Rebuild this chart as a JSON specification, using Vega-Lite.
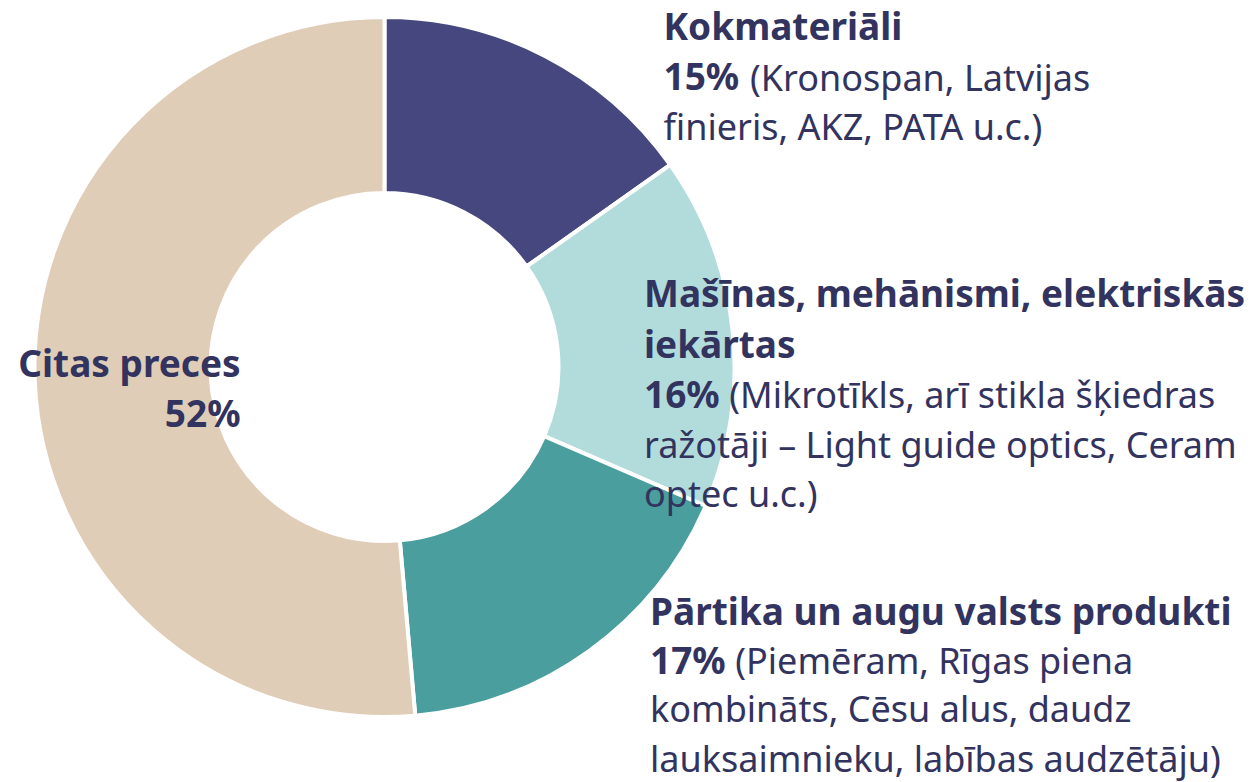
{
  "$schema": "https://vega.github.io/schema/vega-lite/v6.json",
  "width": 769,
  "height": 734,
  "autosize": {"type": "none"},
  "padding": {"left": 0, "top": 0, "right": 489, "bottom": 48},
  "background": "white",
  "config": {"view": {"stroke": null}},
  "data": {
    "values": [
      {"category": "Kokmateriāli", "value": 15.2, "bold": ["Kokmateriāli", "15%"], "note1": "(Kronospan, Latvijas", "note2": ["finieris, AKZ, PATA u.c.)"]},
      {"category": "Mašīnas, mehānismi, elektriskās iekārtas", "value": 16.3, "bold": ["Mašīnas, mehānismi, elektriskās", "iekārtas", "16%"], "note1": "(Mikrotīkls, arī stikla šķiedras", "note2": ["ražotāji – Light guide optics, Ceram", "optec u.c.)"]},
      {"category": "Pārtika un augu valsts produkti", "value": 17.1, "bold": ["Pārtika un augu valsts produkti", "17%"], "note1": "(Piemēram, Rīgas piena", "note2": ["kombināts, Cēsu alus, daudz", "lauksaimnieku, labības audzētāju)"]},
      {"category": "Citas preces", "value": 51.4, "bold": ["Citas preces", "52%"], "note1": "", "note2": []}
    ]
  },
  "transform": [{"stack": "value", "groupby": [], "as": ["v0", "v1"]}],
  "encoding": {
    "theta": {"field": "v0", "type": "quantitative", "stack": null, "scale": {"domain": [0, 100]}}
  },
  "layer": [
    {
      "mark": {"type": "arc", "outerRadius": 350, "innerRadius": 174, "stroke": "white", "strokeWidth": 4},
      "encoding": {
        "theta2": {"field": "v1"},
        "color": {
          "field": "category", "type": "nominal", "legend": null,
          "scale": {
            "domain": ["Kokmateriāli", "Mašīnas, mehānismi, elektriskās iekārtas", "Pārtika un augu valsts produkti", "Citas preces"],
            "range": ["#46477e", "#b2dcdb", "#4a9e9e", "#e0cdb7"]
          }
        }
      }
    },
    {
      "transform": [{"filter": "datum.category == 'Kokmateriāli'"}],
      "mark": {"type": "text", "font": "Noto Sans", "fontSize": 37, "fontWeight": "bold", "color": "#32335e", "align": "left", "baseline": "alphabetic", "lineHeight": 50.8, "dx": 279, "dy": 22.5},
      "encoding": {"radius": {"value": 350}, "text": {"field": "bold", "type": "nominal"}}
    },
    {
      "transform": [{"filter": "datum.category == 'Kokmateriāli'"}],
      "mark": {"type": "text", "font": "Noto Sans", "fontSize": 36, "color": "#32335e", "align": "left", "baseline": "alphabetic", "dx": 365.5, "dy": 73.5},
      "encoding": {"radius": {"value": 350}, "text": {"field": "note1", "type": "nominal"}}
    },
    {
      "transform": [{"filter": "datum.category == 'Kokmateriāli'"}],
      "mark": {"type": "text", "font": "Noto Sans", "fontSize": 36, "color": "#32335e", "align": "left", "baseline": "alphabetic", "lineHeight": 50, "dx": 279, "dy": 123},
      "encoding": {"radius": {"value": 350}, "text": {"field": "note2", "type": "nominal"}}
    },
    {
      "transform": [{"filter": "datum.category == 'Mašīnas, mehānismi, elektriskās iekārtas'"}],
      "mark": {"type": "text", "font": "Noto Sans", "fontSize": 37, "fontWeight": "bold", "color": "#32335e", "align": "left", "baseline": "alphabetic", "lineHeight": 50.7, "dx": -26.2, "dy": 142},
      "encoding": {"radius": {"value": 350}, "text": {"field": "bold", "type": "nominal"}}
    },
    {
      "transform": [{"filter": "datum.category == 'Mašīnas, mehānismi, elektriskās iekārtas'"}],
      "mark": {"type": "text", "font": "Noto Sans", "fontSize": 36, "color": "#32335e", "align": "left", "baseline": "alphabetic", "dx": 59, "dy": 243.4},
      "encoding": {"radius": {"value": 350}, "text": {"field": "note1", "type": "nominal"}}
    },
    {
      "transform": [{"filter": "datum.category == 'Mašīnas, mehānismi, elektriskās iekārtas'"}],
      "mark": {"type": "text", "font": "Noto Sans", "fontSize": 36, "color": "#32335e", "align": "left", "baseline": "alphabetic", "lineHeight": 48.5, "dx": -26.2, "dy": 293.5},
      "encoding": {"radius": {"value": 350}, "text": {"field": "note2", "type": "nominal"}}
    },
    {
      "transform": [{"filter": "datum.category == 'Pārtika un augu valsts produkti'"}],
      "mark": {"type": "text", "font": "Noto Sans", "fontSize": 37, "fontWeight": "bold", "color": "#32335e", "align": "left", "baseline": "alphabetic", "lineHeight": 48.5, "dx": -55.7, "dy": 119},
      "encoding": {"radius": {"value": 350}, "text": {"field": "bold", "type": "nominal"}}
    },
    {
      "transform": [{"filter": "datum.category == 'Pārtika un augu valsts produkti'"}],
      "mark": {"type": "text", "font": "Noto Sans", "fontSize": 36, "color": "#32335e", "align": "left", "baseline": "alphabetic", "dx": 29.5, "dy": 167.5},
      "encoding": {"radius": {"value": 350}, "text": {"field": "note1", "type": "nominal"}}
    },
    {
      "transform": [{"filter": "datum.category == 'Pārtika un augu valsts produkti'"}],
      "mark": {"type": "text", "font": "Noto Sans", "fontSize": 36, "color": "#32335e", "align": "left", "baseline": "alphabetic", "lineHeight": 49.5, "dx": -55.7, "dy": 216},
      "encoding": {"radius": {"value": 350}, "text": {"field": "note2", "type": "nominal"}}
    },
    {
      "transform": [{"filter": "datum.category == 'Citas preces'"}],
      "mark": {"type": "text", "font": "Noto Sans", "fontSize": 37, "fontWeight": "bold", "color": "#32335e", "align": "right", "baseline": "alphabetic", "lineHeight": 50, "dx": -174.7, "dy": -338.6},
      "encoding": {"radius": {"value": 350}, "text": {"field": "bold", "type": "nominal"}}
    }
  ]
}
